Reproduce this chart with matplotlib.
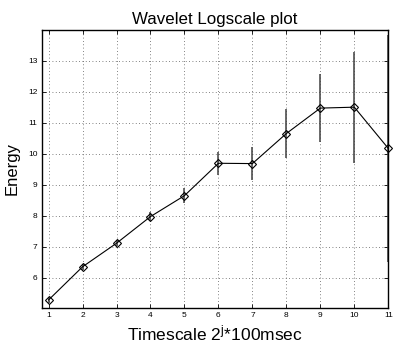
import matplotlib.pyplot as plt

plt.rcParams["font.family"] = ["Liberation Sans", "DejaVu Sans"]
plt.rcParams["mathtext.fontset"] = "custom"
plt.rcParams["mathtext.rm"] = "Liberation Sans"
plt.rcParams["mathtext.it"] = "Liberation Sans"

scales = [1, 2, 3, 4, 5, 6, 7, 8, 9, 10, 11]
energy = [5.28, 6.35, 7.11, 7.97, 8.645, 9.69, 9.68, 10.65, 11.47, 11.5, 10.17]
errors = [0.1, 0.1, 0.1, 0.15, 0.25, 0.37, 0.53, 0.78, 1.1, 1.79, 3.65]
yticks = [6, 7, 8, 9, 10, 11, 12, 13]

fig = plt.figure(figsize=(3.94, 3.44), dpi=100)
ax = fig.add_axes([0.106, 0.1055, 0.8795, 0.8073])

eb = ax.errorbar(scales, energy, yerr=errors, fmt="none", ecolor="0.25",
                 elinewidth=1.1, capsize=0, zorder=2)
for coll in eb.lines[2]:
    coll.set_clip_on(False)
ax.plot(scales, energy, color="black", linewidth=0.8, marker="D",
        markersize=4.2, markerfacecolor="none", markeredgecolor="black",
        markeredgewidth=0.8, zorder=3, clip_on=False)

ax.set_xlim(0.8, 11)
ax.set_ylim(5.03, 13.99)
ax.set_xticks(scales)
ax.set_yticks(yticks)
ax.tick_params(direction="in", length=3, width=0.6, labelsize=6,
               top=True, right=True, pad=3)
ax.grid(True, linestyle=(0, (1, 3)), linewidth=0.6, color="0.35")
for s in ax.spines.values():
    s.set_linewidth(1.0)

ax.set_title("Wavelet Logscale plot", fontsize=12.2, pad=4)
ax.set_xlabel("Timescale 2$^\\mathrm{j}$*100msec", fontsize=12.5, labelpad=3)
ax.set_ylabel("Energy", fontsize=12, labelpad=6)

fig.savefig("out.png", dpi=100)
